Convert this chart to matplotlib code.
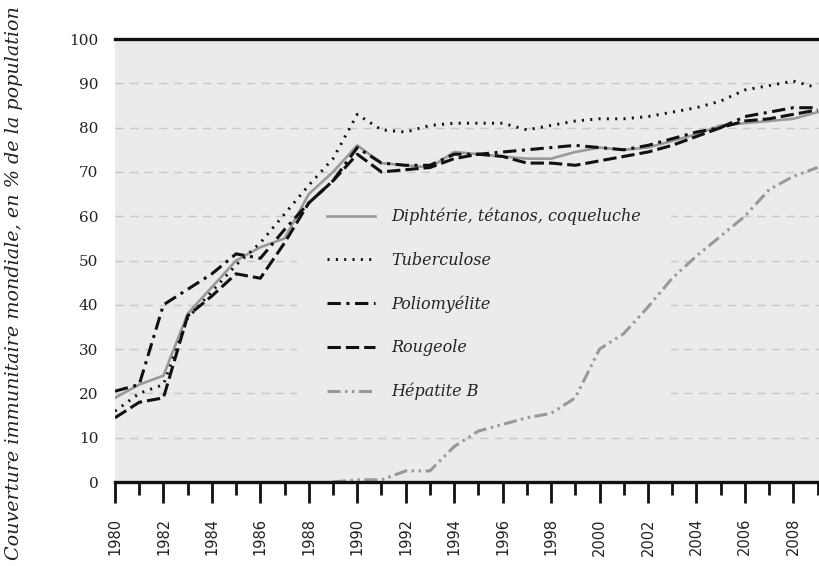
import matplotlib
matplotlib.use("Agg")
import matplotlib.pyplot as plt
import numpy as np

# data
years = list(range(1980, 2010))
dtc = [19, 22, 24, 38, 44, 50, 53, 55, 65, 70, 76,
       72, 71.5, 71, 74.5, 74, 73.5, 73, 73, 74.5,
       75.5, 75, 75.5, 77, 78.5, 80.5, 81, 81.5, 82, 83.5]
tuberculose = [16, 20, 22, 37, 43, 49, 54, 60.5, 67, 73, 83,
               79.5, 79, 80.5, 81, 81, 81, 79.5, 80.5, 81.5,
               82, 82, 82.5, 83.5, 84.5, 86, 88.5, 89.5, 90.5, 89]
polio = [20.5, 22, 40, 43.5, 47, 51.5, 50.5, 57, 63, 68, 75.5,
         72, 71.5, 71.5, 74, 74, 74.5, 75, 75.5, 76,
         75.5, 75, 76, 77.5, 79, 80, 82.5, 83.5, 84.5, 84.5]
rougeole = [14.5, 18, 19, 37.5, 42, 47, 46, 54, 63, 68, 74,
            70, 70.5, 71, 73, 74, 73.5, 72, 72, 71.5,
            72.5, 73.5, 74.5, 76, 78, 80, 81.5, 82, 83, 84]
years_hepb = list(range(1989, 2010))
hepb = [0, 0.5, 0.5, 2.5, 2.5, 8, 11.5, 13, 14.5, 15.5, 19,
        30, 33.5, 39.5, 46, 51, 55.5, 60, 66, 69, 71]

labels = ["Diphtérie, tétanos, coqueluche", "Tuberculose", "Poliomyélite",
          "Rougeole", "Hépatite B"]

plt.rcParams["lines.scale_dashes"] = False
bg = "#ebebeb"

fig = plt.figure(figsize=(8.19, 5.66), dpi=100)
ax = fig.add_axes([0.1404, 0.1484, 0.8596, 0.7826])
ax.set_facecolor(bg)

ax.plot(years, dtc, color="#999999", lw=1.9, ls="-", label=labels[0])
ax.plot(years, tuberculose, color="#111111", lw=2.1, ls=(0, (1.5, 4.5)),
        dash_capstyle="butt", label=labels[1])
ax.plot(years, polio, color="#111111", lw=2.2, ls=(0, (9.6, 4, 2.2, 4)), label=labels[2])
ax.plot(years, rougeole, color="#111111", lw=2.2, ls=(0, (9.6, 3.6)), label=labels[3])
ax.plot(years_hepb, hepb, color="#999999", lw=2.2,
        ls=(0, (9.4, 3.2, 1.8, 3.2, 1.8, 3.2)), label=labels[4])

ax.set_xlim(1980, 2009.06)
ax.set_ylim(0, 100)
ax.set_yticks(range(0, 101, 10))
ax.set_xticks(range(1980, 2009, 2))
ax.set_xticks(range(1981, 2010, 2), minor=True)

ax.set_axisbelow(True)
ax.yaxis.grid(True, color="#c8c8c8", lw=1.0, ls=(0, (6, 4.5)))

for s in ["left", "right"]:
    ax.spines[s].set_visible(False)
ax.spines["top"].set_linewidth(2.4)
ax.spines["bottom"].set_linewidth(2.4)
ax.spines["top"].set_color("#111111")
ax.spines["bottom"].set_color("#111111")

ax.tick_params(axis="y", length=0, pad=12, labelsize=11, labelfontfamily="DejaVu Serif",
               labelcolor="#222222")
ax.tick_params(axis="x", which="major", length=15, width=2, pad=11, labelsize=10.5,
               labelrotation=90, color="#111111", labelcolor="#222222")
ax.tick_params(axis="x", which="minor", length=9.5, width=2, color="#111111")

ax.set_ylabel("Couverture immunitaire mondiale, en % de la population",
              family="DejaVu Serif", style="italic", fontsize=13.8, color="#222222")
ax.yaxis.set_label_coords(-0.13, 0.449)

leg = ax.legend(loc="upper left", bbox_to_anchor=(0.2585, 0.688), borderaxespad=0,
                frameon=True, facecolor=bg, edgecolor="none", framealpha=1,
                fancybox=False, borderpad=1.9, labelspacing=1.66, handlelength=3.0,
                handletextpad=1.0, prop={"family": "DejaVu Serif", "style": "italic",
                                         "size": 11.5})
leg.set_zorder(1)
for t in leg.get_texts():
    t.set_color("#222222")

fig.savefig("out.png", dpi=100)
